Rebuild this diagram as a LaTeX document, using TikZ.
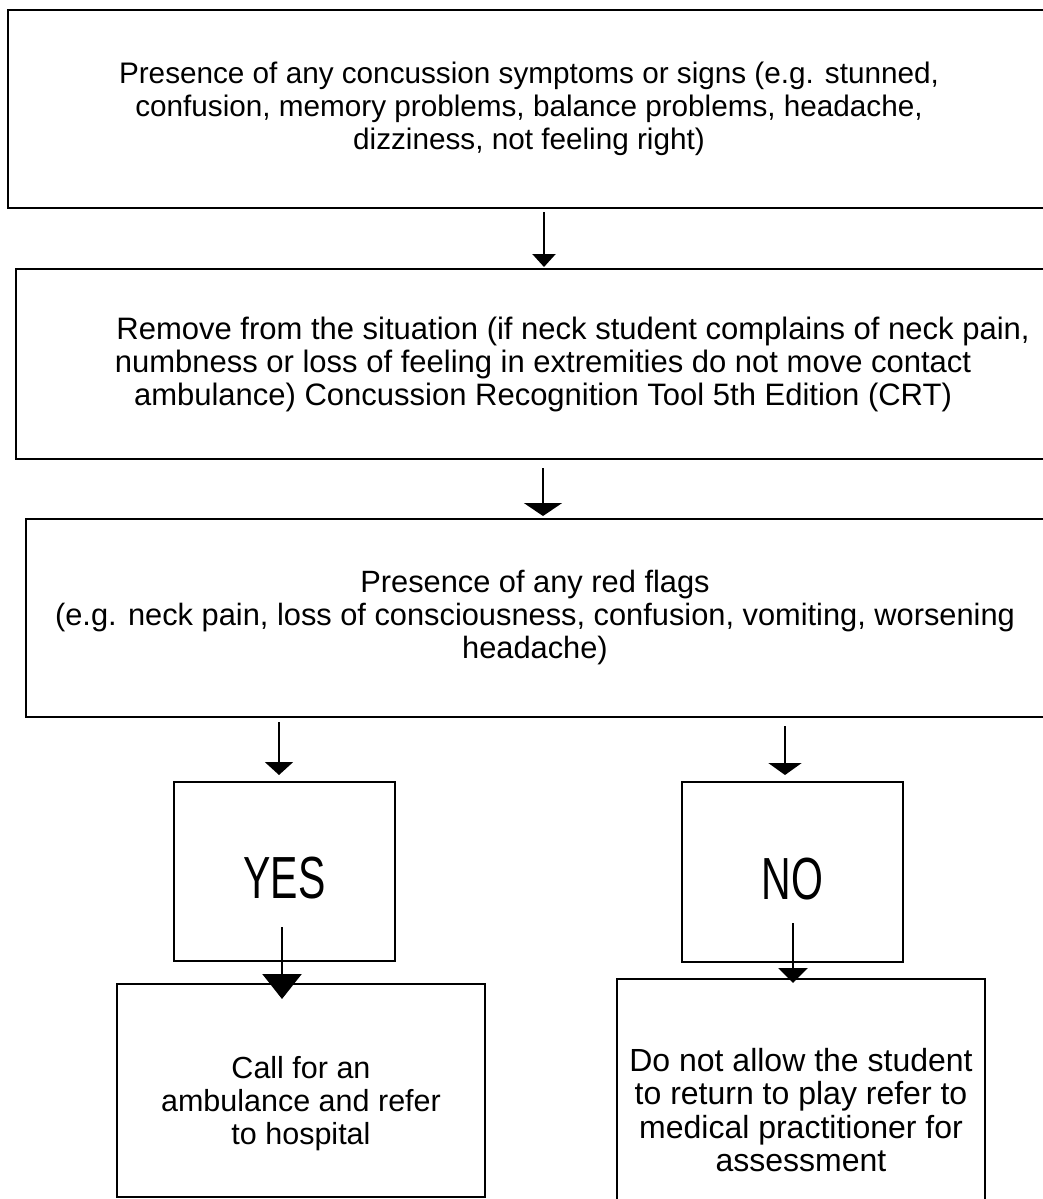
\documentclass[tikz,border=0pt]{standalone}
\usepackage{fontspec}
\setmainfont{Liberation Sans}
\usepackage{tikz}
\usetikzlibrary{arrows.meta, positioning}
\tikzstyle{block}   = [rectangle, draw=black, line width=1.3pt, inner sep=0pt,
                       outer sep=0pt, anchor=north west, align=center,
                       font=\fontsize{30.5}{33}\selectfont]
\tikzstyle{answer}  = [block, font=\fontsize{41}{48}\selectfont]
\tikzstyle{arrow}   = [line width=2.3pt]

\begin{document}
\begin{tikzpicture}[x=1pt, y=-1pt]
    \useasboundingbox (0,0) rectangle (1042,1199);

    \node (symptoms) [block, font=\fontsize{29.7}{33}\selectfont,
                      minimum width=1042, minimum height=198] at (8,10)
        {Presence of any concussion symptoms or signs (e.g. stunned,\\
         confusion, memory problems, balance problems, headache,\\
         dizziness, not feeling right)};
    \node (remove) [block, font=\fontsize{31}{33}\selectfont,
                    minimum width=1054, minimum height=190] at (16,269)
        {\hspace*{60pt}Remove from the situation (if neck student complains of neck pain,\\
         numbness or loss of feeling in extremities do not move contact\\
         ambulance) Concussion Recognition Tool 5th Edition (CRT)};
    \node (redflags) [block, font=\fontsize{30.8}{33}\selectfont,
                      minimum width=1018, minimum height=198] at (26,519)
        {Presence of any red flags\\
         (e.g. neck pain, loss of consciousness, confusion, vomiting, worsening\\
         headache)};
    \node (yes) [answer, minimum width=221, minimum height=179] at (174,782)
        {\rule{0pt}{55pt}\scalebox{1}[1.45]{YES}};
    \node (no)  [answer, minimum width=221, minimum height=180] at (682,782)
        {\rule{0pt}{55pt}\scalebox{1}[1.45]{NO}};
    \node (call) [block, minimum width=368, minimum height=213] at (117,984)
        {\rule{0pt}{48pt}Call for an\\ ambulance and refer\\ to hospital};
    \node (stop) [block, font=\fontsize{32}{33.5}\selectfont,
                  minimum width=368, minimum height=262] at (617,979)
        {Do not allow the student\\ to return to play refer to\\
         medical practitioner for\\ assessment};

    \draw [arrow, -{Triangle[width=23pt, length=13pt]}]
        ([xshift=15pt, yshift=-4pt]symptoms.south) -- ([xshift=1pt, yshift=2pt]remove.north);
    \draw [arrow, -{Triangle[width=38pt, length=13pt]}]
        ([yshift=-9pt]remove.south) -- ([xshift=8pt, yshift=3pt]redflags.north);
    \draw [arrow, -{Triangle[width=28pt, length=13pt]}]
        ([xshift=253pt, yshift=-5pt]redflags.south west) -- ([xshift=-5.5pt, yshift=7pt]yes.north);
    \draw [arrow, -{Triangle[width=33pt, length=12pt]}]
        ([xshift=759pt, yshift=-9pt]redflags.south west) -- ([xshift=-7.5pt, yshift=7pt]no.north);
    \draw [arrow, -{Triangle[width=39pt, length=25pt]}]
        ([xshift=-2.5pt, yshift=34pt]yes.south) -- ([xshift=-19pt, yshift=-15pt]call.north);
    \draw [arrow, -{Triangle[width=29pt, length=15pt]}]
        ([xshift=0.5pt, yshift=39pt]no.south) -- ([xshift=-8pt, yshift=-4pt]stop.north);
\end{tikzpicture}
\end{document}
